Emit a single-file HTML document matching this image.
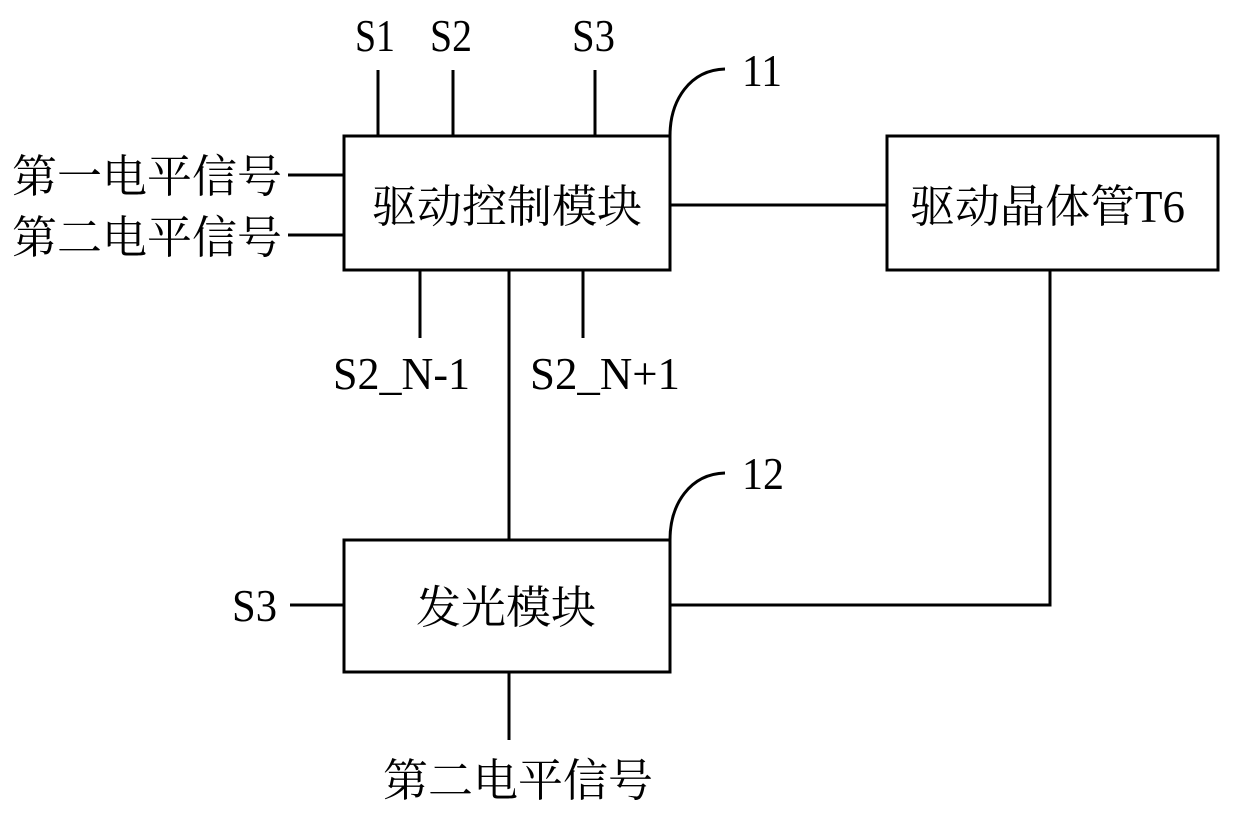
<!DOCTYPE html>
<html><head><meta charset="utf-8"><style>html,body{margin:0;padding:0;background:#fff}</style></head>
<body>
<svg width="1240" height="829" viewBox="0 0 1240 829" xmlns="http://www.w3.org/2000/svg">
<g fill="none" stroke="#000" stroke-width="3">
<rect x="344" y="136" width="326" height="134"/>
<rect x="887" y="136" width="331" height="134"/>
<rect x="344" y="540" width="326" height="132"/>
<path d="M378 70V136M453 70V136M595 70V136"/>
<path d="M670 136C670 100 690 70 725 69"/>
<path d="M670 540C670 504 690 474 725 473"/>
<path d="M288 175H344M288 235H344M670 205H887"/>
<path d="M420 270V338M583 270V338M509 270V540"/>
<path d="M1050 270V605H670M290 605H344M509 672V740"/>
</g>
<g font-family="Liberation Serif, serif" font-size="46" fill="#000" lengthAdjust="spacingAndGlyphs">
<text x="355" y="51" textLength="40" lengthAdjust="spacingAndGlyphs">S1</text>
<text x="430" y="51" textLength="42" lengthAdjust="spacingAndGlyphs">S2</text>
<text x="572" y="51" textLength="43" lengthAdjust="spacingAndGlyphs">S3</text>
<text x="742" y="86" textLength="40" lengthAdjust="spacingAndGlyphs">11</text>
<text x="742" y="489" textLength="42" lengthAdjust="spacingAndGlyphs">12</text>
<text x="333" y="389" textLength="137" lengthAdjust="spacingAndGlyphs">S2_N-1</text>
<text x="530" y="389" textLength="150" lengthAdjust="spacingAndGlyphs">S2_N+1</text>
<text x="232" y="621" textLength="45" lengthAdjust="spacingAndGlyphs">S3</text>
</g>
<g font-family="Liberation Serif, 'Noto Serif CJK SC', serif" font-size="45" fill="#000">
<text x="12" y="192">第一电平信号</text>
<text x="12" y="253">第二电平信号</text>
<text x="372" y="222">驱动控制模块</text>
<text x="910" y="222">驱动晶体管T6</text>
<text x="416" y="623">发光模块</text>
<text x="383" y="796">第二电平信号</text>
</g>
</svg>
</body></html>
